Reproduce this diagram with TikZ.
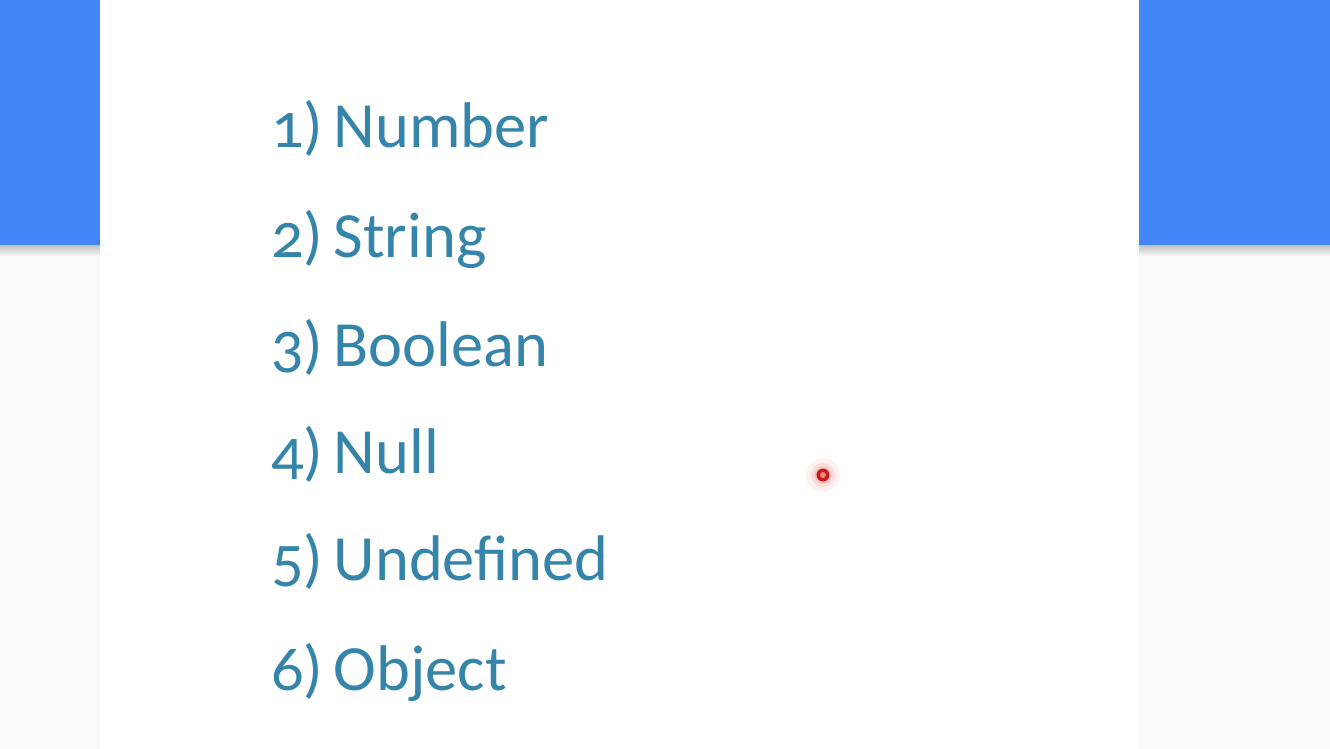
\documentclass[tikz,border=0pt]{standalone}
\usepackage{fontspec}
\setmainfont{Carlito}[Numbers=OldStyle]
\definecolor{bandblue}{HTML}{4285F4}
\definecolor{pagegray}{HTML}{F9F9F9}
\definecolor{itemblue}{HTML}{3585AA}
\definecolor{laser}{HTML}{E8221F}
\newcommand{\itemgap}{\hspace{0.16em}}
\begin{document}
\begin{tikzpicture}[x=1pt,y=-1pt,
  item/.style={anchor=base west,inner sep=0pt,text=itemblue,font=\fontsize{64.5}{70}\selectfont}]
\useasboundingbox (0,0) rectangle (1330,749);
\fill[pagegray] (0,0) rectangle (1330,749);
\fill[bandblue] (0,0) rectangle (1330,245);
\shade[top color=black!25,bottom color=pagegray] (0,245) rectangle (1330,256);
\fill[white] (100,0) rectangle (1139,749);
\node[item] (n1) at (271,147) {1)\itemgap Number};
\node[item] (n2) at (271,257) {2)\itemgap String};
\node[item] (n3) at (271,366) {3)\itemgap Boolean};
\node[item] (n4) at (271,473) {4)\itemgap Null};
\node[item] (n5) at (271,580) {5)\itemgap Undefined};
\node[item] (n6) at (271,690) {6)\itemgap Object};
\fill[laser,opacity=0.06] (823,475) circle (17);
\fill[laser,opacity=0.10] (823,475) circle (12);
\fill[laser,opacity=0.15] (823,475) circle (8.5);
\fill[laser!85!black] (823,475) circle (6.5);
\fill[laser!55!white] (823,475) circle (3);
\end{tikzpicture}
\end{document}
